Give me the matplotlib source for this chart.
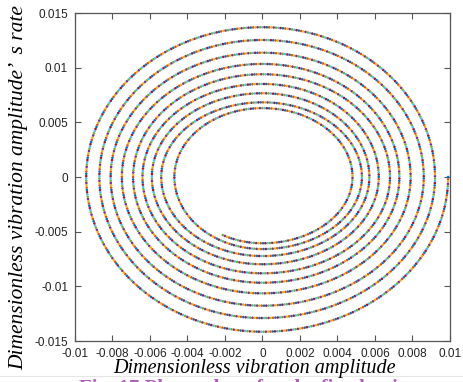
import numpy as np
import matplotlib.pyplot as plt
from matplotlib.lines import Line2D

# turning points of the phase trajectory, one entry per loop
x_right = [0.0099, 0.0092, 0.0086, 0.0079, 0.0073, 0.0068, 0.0062, 0.0057, 0.0053, 0.0048]
y_bottom = [-0.01415, -0.0129, -0.01177, -0.01064, -0.00967, -0.00881, -0.00798, -0.00723, -0.00659, -0.00606]
x_left = [-0.0094, -0.0087, -0.0081, -0.0075, -0.0069, -0.0064, -0.0059, -0.0054, -0.0047, -0.0044]
y_top = [0.0137, 0.01253, 0.01137, 0.01034, 0.0094, 0.00851, 0.00766, 0.00683, 0.0063]
x_end = -0.0022

xticks = [-0.01, -0.008, -0.006, -0.004, -0.002, 0, 0.002, 0.004, 0.006, 0.008, 0.01]
xticklabels = ['-0.01', '-0.008', '-0.006', '-0.004', '-0.002', '0',
               '0.002', '0.004', '0.006', '0.008', '0.01']
yticks = [-0.015, -0.01, -0.005, 0, 0.005, 0.01, 0.015]
yticklabels = ['-0.015', '-0.01', '-0.005', '0', '0.005', '0.01', '0.015']

colors = ['#0072BD', '#D95319', '#EDB120', '#7E2F8E', '#77AC30', '#4DBEEE', '#A2142F']

fig = plt.figure(figsize=(4.64, 3.82), dpi=100)
ax = fig.add_axes([75 / 464, 41 / 382, 375 / 464, 328 / 382])
ax.set_xlim(-0.01, 0.01)
ax.set_ylim(-0.015, 0.015)

# build the clockwise spiral from quarter ellipses between turning points
segs = []
n_loops = len(y_bottom)
for k in range(n_loops):
    rx_r, ry_b, rx_l = x_right[k], -y_bottom[k], -x_left[k]
    # right -> bottom
    segs.append((rx_r, ry_b, 0.0, -np.pi / 2))
    if k < len(y_top):
        ry_t = y_top[k]
        segs.append((rx_l, ry_b, -np.pi / 2, -np.pi))
        segs.append((rx_l, ry_t, -np.pi, -1.5 * np.pi))
        segs.append((x_right[k + 1], ry_t, -1.5 * np.pi, -2 * np.pi))
    else:
        # last partial quarter, stops at x_end
        d = np.arcsin(-x_end / rx_l)
        segs.append((rx_l, ry_b, -np.pi / 2, -np.pi / 2 - d))

xs, ys = [], []
for rx, ry, a0, a1 in segs:
    a = np.linspace(a0, a1, 3000)
    xs.append(rx * np.cos(a))
    ys.append(ry * np.sin(a))
xs = np.concatenate(xs)
ys = np.concatenate(ys)

# resample with even spacing in display pixels
pix = ax.transData.transform(np.column_stack([xs, ys]))
dl = np.hypot(np.diff(pix[:, 0]), np.diff(pix[:, 1]))
s = np.concatenate([[0], np.cumsum(dl)])
step = 2.3
s_new = np.arange(0, s[-1], step)
px = np.interp(s_new, s, xs)
py = np.interp(s_new, s, ys)
cols = [colors[i % len(colors)] for i in range(len(px))]
ax.scatter(px, py, s=3.4, c=cols, marker='o', linewidths=0, zorder=3)

ax.set_xticks(xticks)
ax.set_xticklabels(xticklabels)
ax.set_yticks(yticks)
ax.set_yticklabels(yticklabels)
ax.tick_params(direction='in', length=4, width=0.8, color='#555555',
               top=True, right=True, labelsize=8.5, pad=5, labelcolor='#222222')
for lab in ax.get_xticklabels() + ax.get_yticklabels():
    lab.set_fontfamily('Liberation Sans')
for sp in ax.spines.values():
    sp.set_color('#555555')
    sp.set_linewidth(0.9)

fig.text(254 / 464, 1 - 373 / 382, 'Dimensionless vibration amplitude',
         ha='center', va='baseline', fontsize=14.5, style='italic',
         family='Liberation Serif')
fig.text(19 / 464, 1 - 188 / 382, 'Dimensionless vibration amplitude\u2019  s rate',
         ha='center', va='center', rotation=90, fontsize=15.5, style='italic',
         family='Liberation Serif')

# separator and clipped caption at the bottom
fig.add_artist(Line2D([0, 1], [1 - 375.5 / 382] * 2, color='#e6e6e6', lw=0.8))
fig.text(248 / 464, 1 - 394 / 382, 'Fig. 17 Phase plane for the fixed point',
         ha='center', va='baseline', fontsize=15, weight='bold',
         family='Liberation Serif', color='#b060b8')

fig.savefig('out.png', dpi=100)
